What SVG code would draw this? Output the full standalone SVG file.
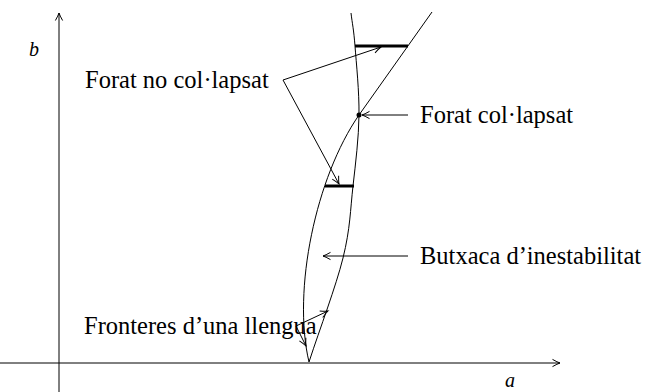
<svg xmlns="http://www.w3.org/2000/svg" width="645" height="392" viewBox="0 0 645 392">
<defs>
<marker id="arr" markerUnits="userSpaceOnUse" markerWidth="12" markerHeight="10" refX="0" refY="0" viewBox="-9 -5 10 10" orient="auto" overflow="visible">
<path d="M -7.5 -3.6 Q -2.5 -0.8 0 0 Q -2.5 0.8 -7.5 3.6" fill="none" stroke="#000" stroke-width="1"/>
</marker>
<style>
.ln{fill:none;stroke:#000;stroke-width:1}
.cv{fill:none;stroke:#000;stroke-width:1}
.bar{fill:none;stroke:#000;stroke-width:3}
.lbl{font-family:"Liberation Serif","Times New Roman",serif;font-size:24.5px;fill:#000}
.var{font-family:"Liberation Serif","Times New Roman",serif;font-size:20px;font-style:italic;fill:#000}
</style>
</defs>
<g id="axes">
<line class="ln" x1="59" y1="392" x2="59" y2="13" marker-end="url(#arr)"/>
<line class="ln" x1="0" y1="363" x2="560" y2="363" marker-end="url(#arr)"/>
<text class="var" x="29" y="56">b</text>
<text class="var" x="505" y="387">a</text>
</g>
<g id="curves">
<path id="curveA" class="cv" d="M351,13 C352.3,24 353.7,29 355,46 C356.3,63 359.3,91.7 359,115 C358.7,138.3 355.7,162.2 353,186 C350.3,209.8 350.3,228.7 343,258 C335.7,287.3 320.3,327.3 309,362"/>
<path id="curveB" class="cv" d="M432,12 L359,115 C316,177 292,290 309,362"/>
</g>
<g id="holes">
<line id="hole-top" class="bar" x1="355" y1="46" x2="408" y2="46"/>
<line id="hole-bottom" class="bar" x1="325" y1="186" x2="354" y2="186"/>
<circle id="collapsed-point" cx="359" cy="115" r="2.5" fill="#000"/>
</g>
<g id="connectors">
<line class="ln" x1="283" y1="80" x2="381" y2="47" marker-end="url(#arr)"/>
<line class="ln" x1="283" y1="80" x2="339" y2="184" marker-end="url(#arr)"/>
<line class="ln" x1="408" y1="115" x2="362" y2="115" marker-end="url(#arr)"/>
<line class="ln" x1="408" y1="256" x2="323" y2="256" marker-end="url(#arr)"/>
<line class="ln" x1="296" y1="326" x2="328" y2="311" marker-end="url(#arr)"/>
<line class="ln" x1="296" y1="326" x2="306" y2="346" marker-end="url(#arr)"/>
</g>
<g id="label-forat-no">
<text class="lbl" x="85" y="88">Forat no col·lapsat</text>
</g>
<g id="label-forat">
<text class="lbl" x="420" y="123">Forat col·lapsat</text>
</g>
<g id="label-butxaca">
<text class="lbl" x="420" y="264">Butxaca d’inestabilitat</text>
</g>
<g id="label-fronteres">
<text class="lbl" x="84" y="334">Fronteres d’una llengua</text>
</g>
</svg>
